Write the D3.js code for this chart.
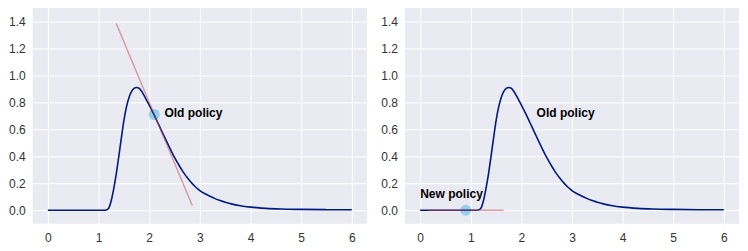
<!DOCTYPE html>
<html>
<head>
<meta charset="utf-8">
<script src="https://cdn.jsdelivr.net/npm/d3@7"></script>
<style>
  html, body { margin: 0; padding: 0; background: #ffffff; }
  svg { display: block; }
  text { font-family: "Liberation Sans", Arial, sans-serif; }
</style>
</head>
<body>
<svg id="chart" width="748" height="251"></svg>
<script>
// ---- data ----
const curveX = [0, 0.5, 1.0, 1.1, 1.15, 1.2, 1.25, 1.3, 1.35, 1.4, 1.45, 1.5, 1.55, 1.6, 1.65, 1.7, 1.75, 1.8, 1.85, 1.9, 1.95,
                2.0, 2.05, 2.1, 2.15, 2.2, 2.25, 2.3, 2.35, 2.4, 2.45, 2.5, 2.55, 2.6, 2.65, 2.7, 2.75, 2.8, 2.85, 2.9, 2.95,
                3.0, 3.1, 3.2, 3.3, 3.4, 3.5, 3.6, 3.8, 4.0, 4.3, 4.6, 5.0, 5.5, 6.0];
const curveY = [0, 0, 0, 0, 0.002, 0.015, 0.07, 0.16, 0.27, 0.40, 0.535, 0.665, 0.765, 0.835, 0.88, 0.903, 0.91, 0.905, 0.882, 0.85, 0.815,
                0.78, 0.743, 0.705, 0.665, 0.625, 0.585, 0.545, 0.505, 0.466, 0.428, 0.392, 0.358, 0.326, 0.296, 0.268, 0.242, 0.218, 0.197, 0.178, 0.161,
                0.145, 0.122, 0.103, 0.086, 0.072, 0.059, 0.049, 0.033, 0.023, 0.014, 0.009, 0.006, 0.004, 0.003];

const xTicks = [0, 1, 2, 3, 4, 5, 6];
const yTicks = [0.0, 0.2, 0.4, 0.6, 0.8, 1.0, 1.2, 1.4];

// panel 1: old policy with tangent
const p1PointX = [2.1], p1PointY = [0.71];
const p1TangentX = [1.35, 2.85], p1TangentY = [1.385, 0.035];
const p1Labels = [{text: "Old policy", x: 2.3, y: 0.71}];

// panel 2: new policy with flat tangent
const p2PointX = [0.9], p2PointY = [0.0];
const p2TangentX = [0.15, 1.65], p2TangentY = [0.0, 0.0];
const p2Labels = [{text: "Old policy", x: 2.3, y: 0.71}, {text: "New policy", x: 0.0, y: 0.11}];

// ---- layout ----
const svg = d3.select("#chart");
const panelsCfg = [
  {left: 32.7, right: 367, px: p1PointX, py: p1PointY, tx: p1TangentX, ty: p1TangentY, labels: p1Labels},
  {left: 405, right: 739, px: p2PointX, py: p2PointY, tx: p2TangentX, ty: p2TangentY, labels: p2Labels}
];
const plotTop = 8, plotBottom = 223.7;

panelsCfg.forEach(cfg => {
  const x = d3.scaleLinear().domain([-0.3, 6.3]).range([cfg.left, cfg.right]);
  const y = d3.scaleLinear().domain([-0.1, 1.5]).range([plotBottom, plotTop]);
  const g = svg.append("g");

  g.append("rect").attr("x", cfg.left).attr("y", plotTop)
    .attr("width", cfg.right - cfg.left).attr("height", plotBottom - plotTop)
    .attr("fill", "#EAEAF2");

  // grid
  const xAxis = d3.axisBottom(x).tickValues(xTicks).tickFormat(d3.format("d"))
    .tickSize(-(plotBottom - plotTop)).tickPadding(10);
  const yAxis = d3.axisLeft(y).tickValues(yTicks).tickFormat(d3.format(".1f"))
    .tickSize(-(cfg.right - cfg.left)).tickPadding(7);

  const gx = g.append("g").attr("transform", `translate(0,${plotBottom})`).call(xAxis);
  const gy = g.append("g").attr("transform", `translate(${cfg.left},0)`).call(yAxis);
  [gx, gy].forEach(ax => {
    ax.select(".domain").remove();
    ax.selectAll(".tick line").attr("stroke", "#ffffff").attr("stroke-width", 1);
    ax.selectAll(".tick text").attr("fill", "#333333").style("font-size", "12px");
  });

  // point (under lines)
  g.selectAll("circle.pt").data(cfg.px.map((v, i) => [v, cfg.py[i]])).enter()
    .append("circle").attr("class", "pt")
    .attr("cx", d => x(d[0])).attr("cy", d => y(d[1])).attr("r", 5.5)
    .attr("fill", "#87CEEB").attr("opacity", 0.9);

  // curve
  const line = d3.line().x(d => x(d[0])).y(d => y(d[1])).curve(d3.curveMonotoneX);
  g.append("path").datum(curveX.map((v, i) => [v, curveY[i]]))
    .attr("d", line).attr("fill", "none")
    .attr("stroke", "#001c7f").attr("stroke-width", 1.6);

  // tangent
  const tline = d3.line().x(d => x(d[0])).y(d => y(d[1]));
  g.append("path").datum(cfg.tx.map((v, i) => [v, cfg.ty[i]]))
    .attr("d", tline).attr("fill", "none")
    .attr("stroke", "#C44E52").attr("stroke-opacity", 0.5).attr("stroke-width", 1.5);

  // labels
  g.selectAll("text.lbl").data(cfg.labels).enter().append("text").attr("class", "lbl")
    .attr("x", d => x(d.x)).attr("y", d => y(d.y) + 2.4)
    .attr("fill", "#000000").style("font-size", "12px").style("font-weight", "bold")
    .text(d => d.text);
});
</script>
</body>
</html>
